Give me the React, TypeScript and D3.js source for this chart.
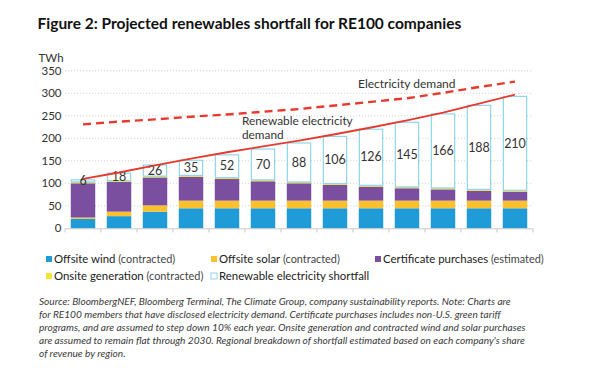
import React from "react";
import * as d3 from "d3";

const years = ["2018","2019","2020","2021","2022","2023","2024","2025","2026","2027","2028","2029","2030"];
const offsiteWind = [21, 27, 37, 44.5, 44.5, 44.5, 44.5, 44.5, 44.5, 44.5, 44.5, 44.5, 44.5];
const offsiteSolar = [3, 10, 14, 17, 17, 17, 17, 17, 17, 17, 17, 17, 17];
const certificates = [76, 66, 62, 53, 48, 43, 38.5, 35, 31, 27.5, 25, 22, 20];
const onsite = [3, 3, 3, 3, 3, 3, 3, 3, 3, 3, 3, 3, 3];
const shortfall = [6, 18, 26, 35, 52, 70, 88, 106, 126, 145, 166, 188, 210];
const renewableDemand = [110, 124, 140, 155, 169, 182, 195, 209, 224, 240, 257, 277, 297];
const electricityDemand = [231, 237, 242, 248, 253, 259, 265, 273, 281, 289, 301, 314, 326];
const yTicks = [0, 50, 100, 150, 200, 250, 300, 350];

const seriesKeys = ["wind", "solar", "cert", "onsite", "shortfall"];
const seriesColors: Record<string, string> = {
  wind: "#1f9bd7",
  solar: "#fbc02d",
  cert: "#7b4f9f",
  onsite: "#f4e33c",
  shortfall: "#ffffff",
};
const legendItems = [
  { key: "wind", main: "Offsite wind", sub: " (contracted)", row: 0, col: 0 },
  { key: "solar", main: "Offsite solar", sub: " (contracted)", row: 0, col: 1 },
  { key: "cert", main: "Certificate purchases", sub: " (estimated)", row: 0, col: 2 },
  { key: "onsite", main: "Onsite generation", sub: " (contracted)", row: 1, col: 0 },
  { key: "shortfall", main: "Renewable electricity shortfall", sub: "", row: 1, col: 1 },
];
const footnote = [
  "Source: BloombergNEF, Bloomberg Terminal, The Climate Group, company sustainability reports. Note: Charts are",
  "for RE100 members that have disclosed electricity demand. Certificate purchases includes non-U.S. green tariff",
  "programs, and are assumed to step down 10% each year. Onsite generation and contracted wind and solar purchases",
  "are assumed to remain flat through 2030. Regional breakdown of shortfall estimated based on each company's share",
  "of revenue by region.",
];

const FONT = "Lato, 'Open Sans', sans-serif";
const RED = "#e8392f";

export default function App() {
  const W = 600, H = 379;
  const x = d3.scaleBand<string>().domain(years).range([65, 533]).paddingInner(0.32).paddingOuter(0.16);
  const y = d3.scaleLinear().domain([0, 350]).range([228.3, 70.8]);

  const table = years.map((yr, i) => ({
    year: yr,
    wind: offsiteWind[i],
    solar: offsiteSolar[i],
    cert: certificates[i],
    onsite: onsite[i],
    shortfall: shortfall[i],
  }));
  const stacked = d3.stack<any>().keys(seriesKeys)(table);

  const cx = (i: number) => (x(years[i]) as number) + x.bandwidth() / 2;
  const lineGen = d3.line<number>().x((_, i) => cx(i)).y((d) => y(d));

  const colX = [46, 211, 375];
  const rowY = [259, 276];
  const edges = d3.range(years.length + 1).map((k) => 65 + k * x.step());

  return (
    <svg width={W} height={H} style={{ position: "absolute", left: 0, top: 0, background: "#fff" }} fontFamily={FONT}>
      <text x={37.5} y={29} fontSize={15.5} fontWeight={700} fill="#111">
        Figure 2: Projected renewables shortfall for RE100 companies
      </text>
      <text x={38.5} y={61.5} fontSize={11.5} fill="#333">TWh</text>

      {yTicks.map((t) => (
        <g key={t}>
          {t !== 0 && (
            <line x1={65} x2={533} y1={y(t)} y2={y(t)} stroke="#c8c8c8" strokeWidth={0.8} strokeDasharray="1.2,1.8" />
          )}
          <text x={61.5} y={y(t)} dy="0.35em" fontSize={11.5} fill="#333" textAnchor="end">{t}</text>
        </g>
      ))}

      {stacked.map((s) => (
        <g key={s.key}>
          {s.map((d, i) => {
            const isShort = s.key === "shortfall";
            const bx = x(years[i]) as number;
            const top = y(d[1]);
            const bot = y(d[0]);
            return (
              <rect
                key={i}
                x={isShort ? bx + 0.6 : bx}
                y={isShort ? top + 0.6 : top}
                width={isShort ? x.bandwidth() - 1.2 : x.bandwidth()}
                height={Math.max(0, isShort ? bot - top - 0.6 : bot - top)}
                fill={seriesColors[s.key]}
                stroke={isShort ? "#8fd6ea" : "none"}
                strokeWidth={isShort ? 1.2 : 0}
              />
            );
          })}
        </g>
      ))}

      {/* x axis */}
      <line x1={65} x2={533} y1={228.8} y2={228.8} stroke="#c8c8c8" strokeWidth={1} />
      {edges.map((e, k) => (
        <line key={k} x1={e} x2={e} y1={228.8} y2={232.5} stroke="#c8c8c8" strokeWidth={1} />
      ))}

      {/* shortfall labels */}
      {stacked[4].map((d, i) => (
        <text key={i} x={cx(i)} y={(y(d[0]) + y(d[1])) / 2} dy="0.36em" textAnchor="middle" fontSize={12.5} fill="#333">
          {shortfall[i]}
        </text>
      ))}

      <path d={lineGen(electricityDemand) || ""} fill="none" stroke={RED} strokeWidth={2.4} strokeDasharray="8,5" />
      <path d={lineGen(renewableDemand) || ""} fill="none" stroke={RED} strokeWidth={1.8} />

      <text x={358} y={88} fontSize={12} fill="#333">Electricity demand</text>
      <text x={242} y={124.5} fontSize={11.8} fill="#333">Renewable electricity</text>
      <text x={242} y={138.8} fontSize={11.8} fill="#333">demand</text>

      {legendItems.map((it) => (
        <g key={it.key}>
          <rect
            x={colX[it.col]}
            y={rowY[it.row] - 3}
            width={6}
            height={6}
            fill={seriesColors[it.key]}
            stroke={it.key === "shortfall" ? "#8fd6ea" : "none"}
            strokeWidth={1}
          />
          <text x={colX[it.col] + 8} y={rowY[it.row]} dy="0.35em" fontSize={11.4} fill="#222">
            {it.main}
            <tspan fill="#444" fontSize={10.9}>{it.sub}</tspan>
          </text>
        </g>
      ))}

      {footnote.map((l, i) => (
        <text key={i} x={39} y={305 + i * 13} fontSize={10.1} fontStyle="italic" fill="#3a3a3a">{l}</text>
      ))}
    </svg>
  );
}
